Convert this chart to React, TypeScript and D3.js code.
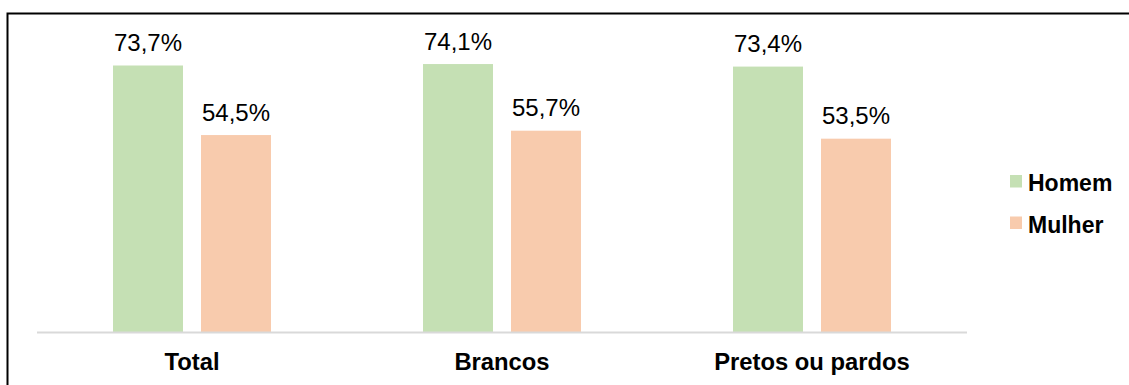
import React from "react";
import * as d3 from "d3";

const categories = ["Total", "Brancos", "Pretos ou pardos"];
const seriesNames = ["Homem", "Mulher"];
const homem = [73.7, 74.1, 73.4];
const mulher = [54.5, 55.7, 53.5];
const colors = ["#c5e0b4", "#f8cbad"];

const fmt = (v: number) => v.toFixed(1).replace(".", ",") + "%";

export default function App() {
  const W = 1129, H = 385;
  const left = 37, right = 967, base = 332.5;
  const x0 = d3.scaleBand<string>().domain(categories).range([left, right]).paddingInner(0).paddingOuter(0);
  const y = d3.scaleLinear().domain([0, 80]).range([base, base - 80 * (267 / 73.7)]);
  const barW = 70, gap = 18;
  const x1 = d3.scaleOrdinal<string, number>().domain(seriesNames).range([-(gap / 2) - barW, gap / 2]);
  const data = [homem, mulher];
  const font = "'Liberation Sans', Arial, sans-serif";
  return (
    <svg width={W} height={H} style={{ position: "absolute", left: 0, top: 0, background: "#fff" }}>
      <rect x={7.5} y={13.5} width={W + 20} height={H + 20} fill="#fff" stroke="#000" strokeWidth={2} />
      {categories.map((c, i) => {
        const cx = (x0(c) as number) + x0.bandwidth() / 2;
        return (
          <g key={c}>
            {seriesNames.map((s, j) => {
              const v = data[j][i];
              const bx = cx + x1(s);
              return (
                <g key={s}>
                  <rect x={bx} y={y(v)} width={barW} height={base - y(v)} fill={colors[j]} />
                  <text x={bx + barW / 2} y={y(v) - 14.5} textAnchor="middle" fontFamily={font} fontSize={24} fill="#000">
                    {fmt(v)}
                  </text>
                </g>
              );
            })}
            <text x={cx} y={370} textAnchor="middle" fontFamily={font} fontWeight="bold" fontSize={23.8} fill="#000">
              {c}
            </text>
          </g>
        );
      })}
      <line x1={left} x2={right} y1={base} y2={base} stroke="#d9d9d9" strokeWidth={2} />
      {seriesNames.map((s, j) => (
        <g key={s} transform={`translate(1010, ${175 + j * 41.5})`}>
          <rect x={0} y={0} width={12} height={12.5} fill={colors[j]} />
          <text x={18} y={16} fontFamily={font} fontWeight="bold" fontSize={23} fill="#000">
            {s}
          </text>
        </g>
      ))}
    </svg>
  );
}
